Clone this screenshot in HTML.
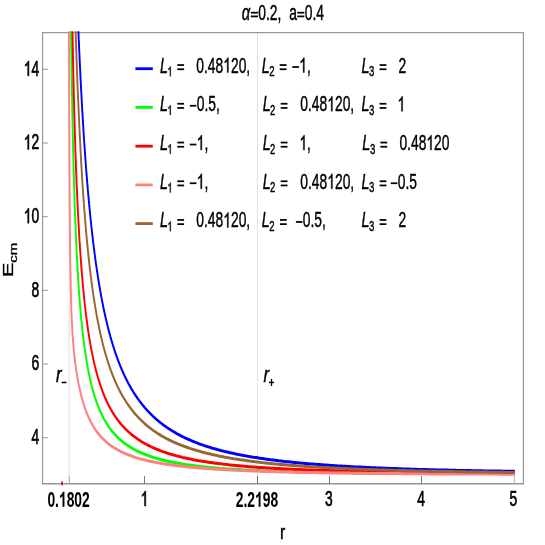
<!DOCTYPE html>
<html><head><meta charset="utf-8"><title>plot</title>
<style>html,body{margin:0;padding:0;background:#fff;}svg{display:block;will-change:transform;}text{font-family:"Liberation Sans",sans-serif;fill:#000;}</style></head>
<body>
<svg width="545" height="545" viewBox="0 0 545 545">
<rect width="545" height="545" fill="#fff"/>
<defs><clipPath id="c"><rect x="66.69" y="31.3" width="753.68" height="452.59999999999997"/></clipPath></defs>
<g transform="scale(0.638,1)">
<line x1="108.46" y1="32.6" x2="108.46" y2="483.9" stroke="#e2e2e2" stroke-width="1.7"/>
<line x1="403.61" y1="32.6" x2="403.61" y2="483.9" stroke="#e2e2e2" stroke-width="1.7"/>
<g stroke="#989898" fill="none">
<line x1="66.69" y1="32.6" x2="66.69" y2="483.9" stroke-width="1.9"/>
<line x1="820.38" y1="32.6" x2="820.38" y2="483.9" stroke-width="1.9"/>
<line x1="65.75" y1="32.6" x2="821.32" y2="32.6" stroke-width="1.2"/>
<line x1="65.75" y1="483.73" x2="821.32" y2="483.73" stroke-width="1.45" stroke="#969696"/>
<line x1="67.40" y1="437.70" x2="74.92" y2="437.70" stroke-width="1.3" stroke="#a8a8a8"/>
<line x1="67.40" y1="364.03" x2="74.92" y2="364.03" stroke-width="1.3" stroke="#a8a8a8"/>
<line x1="67.40" y1="290.36" x2="74.92" y2="290.36" stroke-width="1.3" stroke="#a8a8a8"/>
<line x1="67.40" y1="216.69" x2="74.92" y2="216.69" stroke-width="1.3" stroke="#a8a8a8"/>
<line x1="67.40" y1="143.02" x2="74.92" y2="143.02" stroke-width="1.3" stroke="#a8a8a8"/>
<line x1="67.40" y1="69.35" x2="74.92" y2="69.35" stroke-width="1.3" stroke="#a8a8a8"/>
<line x1="108.46" y1="483.5" x2="108.46" y2="476.0" stroke-width="1.1" stroke="#8a8a8a"/>
<line x1="226.49" y1="483.5" x2="226.49" y2="476.0" stroke-width="1.1" stroke="#3c3c3c"/>
<line x1="403.53" y1="483.5" x2="403.53" y2="476.0" stroke-width="1.1" stroke="#3c3c3c"/>
<line x1="516.38" y1="483.5" x2="516.38" y2="476.0" stroke-width="1.1" stroke="#3c3c3c"/>
<line x1="660.66" y1="483.5" x2="660.66" y2="476.0" stroke-width="1.1" stroke="#3c3c3c"/>
<line x1="805.96" y1="483.5" x2="805.96" y2="476.0" stroke-width="1.1" stroke="#8a8a8a"/>
</g>
<g clip-path="url(#c)" fill="none" stroke-width="3.0" stroke-linejoin="round">
<path d="M119.8 -22.1 L119.9 -20.0 L120.0 -18.0 L120.1 -15.9 L120.2 -13.9 L120.3 -11.9 L120.4 -9.9 L120.6 -7.9 L120.7 -5.9 L120.8 -3.9 L120.9 -2.0 L121.0 -0.1 L121.1 1.9 L121.2 3.8 L121.3 5.7 L121.4 7.6 L121.6 9.4 L121.7 11.3 L121.8 13.1 L121.9 15.0 L122.0 16.8 L122.1 18.6 L122.2 20.4 L122.3 22.2 L122.4 24.0 L122.6 25.7 L122.7 27.5 L122.8 29.2 L122.9 30.9 L123.0 32.6 L123.1 34.4 L123.2 36.0 L123.3 37.7 L123.4 39.4 L123.6 41.1 L123.7 42.7 L123.8 44.4 L123.9 46.0 L124.0 47.6 L124.1 49.2 L124.2 50.8 L124.3 52.4 L124.5 54.0 L124.6 55.6 L124.7 57.1 L124.8 58.7 L124.9 60.2 L125.0 61.7 L125.1 63.3 L125.2 64.8 L125.3 66.3 L125.5 67.8 L125.6 69.3 L125.7 70.7 L125.8 72.2 L125.9 73.7 L126.0 75.1 L126.1 76.5 L126.2 78.0 L126.3 79.4 L126.5 80.8 L126.6 82.2 L126.7 83.6 L126.8 85.0 L126.9 86.4 L127.0 87.8 L127.1 89.1 L127.2 90.5 L127.3 91.8 L127.5 93.2 L127.6 94.5 L127.7 95.8 L127.8 97.2 L127.9 98.5 L128.0 99.8 L128.1 101.1 L128.2 102.4 L128.4 103.6 L128.5 104.9 L128.6 106.2 L128.7 107.4 L128.8 108.7 L128.9 109.9 L129.0 111.2 L129.1 112.4 L129.2 113.6 L129.4 114.8 L129.5 116.1 L129.6 117.3 L129.7 118.5 L129.8 119.6 L129.9 120.8 L130.0 122.0 L130.1 123.2 L130.2 124.3 L130.4 125.5 L130.5 126.6 L130.6 127.8 L130.7 128.9 L130.8 130.1 L131.0 131.8 L131.1 133.4 L131.3 135.1 L131.5 136.7 L131.6 138.4 L131.8 140.0 L132.0 141.6 L132.1 143.2 L132.3 144.8 L132.5 146.3 L132.6 147.9 L132.8 149.4 L133.0 151.0 L133.1 152.5 L133.3 154.0 L133.5 155.5 L133.6 157.0 L133.8 158.5 L134.0 159.9 L134.1 161.4 L134.3 162.8 L134.5 164.3 L134.6 165.7 L134.8 167.1 L135.0 168.5 L135.1 169.9 L135.3 171.2 L135.5 172.6 L135.6 174.0 L135.8 175.3 L136.0 176.7 L136.2 178.0 L136.3 179.3 L136.5 180.6 L136.7 181.9 L136.8 183.2 L137.0 184.5 L137.2 185.7 L137.3 187.0 L137.5 188.3 L137.7 189.5 L137.8 190.7 L138.0 192.0 L138.2 193.2 L138.3 194.4 L138.5 195.6 L138.7 196.8 L138.8 198.0 L139.0 199.1 L139.2 200.3 L139.3 201.5 L139.5 202.6 L139.7 203.7 L139.8 204.9 L140.0 206.0 L140.2 207.1 L140.3 208.2 L140.5 209.3 L140.7 210.4 L140.9 211.9 L141.1 213.3 L141.3 214.7 L141.6 216.2 L141.8 217.6 L142.0 218.9 L142.2 220.3 L142.4 221.7 L142.7 223.0 L142.9 224.4 L143.1 225.7 L143.3 227.0 L143.6 228.3 L143.8 229.6 L144.0 230.9 L144.2 232.2 L144.5 233.4 L144.7 234.7 L144.9 235.9 L145.1 237.1 L145.3 238.4 L145.6 239.6 L145.8 240.8 L146.0 242.0 L146.2 243.1 L146.5 244.3 L146.7 245.5 L146.9 246.6 L147.1 247.7 L147.3 248.9 L147.6 250.0 L147.8 251.1 L148.0 252.2 L148.2 253.3 L148.5 254.4 L148.7 255.5 L148.9 256.5 L149.1 257.6 L149.4 258.9 L149.7 260.2 L150.0 261.5 L150.2 262.8 L150.5 264.0 L150.8 265.3 L151.1 266.5 L151.4 267.8 L151.6 269.0 L151.9 270.2 L152.2 271.4 L152.5 272.5 L152.8 273.7 L153.0 274.9 L153.3 276.0 L153.6 277.2 L153.9 278.3 L154.1 279.4 L154.4 280.5 L154.7 281.6 L155.0 282.7 L155.3 283.8 L155.5 284.8 L155.8 285.9 L156.1 286.9 L156.4 288.0 L156.7 289.0 L157.0 290.2 L157.3 291.4 L157.7 292.6 L158.0 293.8 L158.3 295.0 L158.7 296.2 L159.0 297.3 L159.3 298.4 L159.7 299.6 L160.0 300.7 L160.3 301.8 L160.7 302.9 L161.0 303.9 L161.3 305.0 L161.7 306.1 L162.0 307.1 L162.3 308.2 L162.7 309.2 L163.0 310.2 L163.3 311.2 L163.7 312.2 L164.1 313.4 L164.5 314.5 L164.8 315.6 L165.2 316.7 L165.6 317.8 L166.0 318.9 L166.4 320.0 L166.8 321.0 L167.2 322.1 L167.6 323.1 L168.0 324.2 L168.4 325.2 L168.7 326.2 L170.1 329.7 L171.2 332.3 L172.3 334.8 L173.3 337.3 L174.4 339.7 L175.5 342.0 L176.5 344.2 L177.6 346.4 L178.7 348.6 L179.7 350.7 L180.8 352.7 L181.9 354.7 L182.9 356.6 L184.0 358.5 L185.0 360.3 L186.1 362.1 L187.2 363.8 L188.2 365.5 L189.3 367.2 L190.4 368.8 L191.4 370.4 L192.5 371.9 L193.6 373.4 L194.6 374.9 L195.7 376.4 L196.8 377.8 L197.8 379.1 L198.9 380.5 L200.0 381.8 L201.0 383.1 L202.1 384.4 L203.2 385.6 L204.2 386.8 L205.3 388.0 L206.3 389.2 L207.4 390.3 L208.5 391.4 L209.5 392.5 L210.6 393.6 L211.7 394.6 L212.7 395.6 L213.8 396.6 L214.9 397.6 L215.9 398.6 L217.0 399.6 L218.1 400.5 L219.1 401.4 L220.2 402.3 L221.3 403.2 L222.3 404.0 L223.4 404.9 L224.5 405.7 L225.5 406.5 L226.6 407.3 L227.6 408.1 L228.7 408.9 L229.8 409.7 L230.8 410.4 L231.9 411.1 L233.0 411.9 L234.0 412.6 L235.1 413.3 L236.2 414.0 L237.2 414.6 L238.3 415.3 L239.4 416.0 L240.4 416.6 L241.5 417.2 L242.6 417.8 L243.6 418.5 L244.7 419.1 L245.7 419.6 L246.8 420.2 L247.9 420.8 L248.9 421.4 L250.0 421.9 L251.1 422.5 L252.1 423.0 L253.2 423.5 L254.3 424.1 L256.4 425.1 L258.5 426.1 L260.7 427.0 L262.8 428.0 L264.9 428.9 L267.0 429.7 L269.2 430.6 L271.3 431.4 L273.4 432.2 L275.6 433.0 L277.7 433.8 L279.8 434.5 L282.0 435.2 L284.1 436.0 L286.2 436.6 L288.3 437.3 L290.5 438.0 L292.6 438.6 L294.7 439.2 L296.9 439.8 L299.0 440.4 L301.1 441.0 L303.3 441.5 L305.4 442.1 L307.5 442.6 L309.6 443.1 L311.8 443.7 L313.9 444.2 L316.0 444.6 L318.2 445.1 L320.3 445.6 L322.4 446.0 L324.6 446.5 L326.7 446.9 L328.8 447.3 L330.9 447.8 L333.1 448.2 L335.2 448.6 L337.3 448.9 L339.5 449.3 L341.6 449.7 L343.7 450.1 L345.9 450.4 L348.0 450.8 L350.1 451.1 L352.2 451.5 L354.4 451.8 L356.5 452.1 L358.6 452.4 L360.8 452.7 L362.9 453.0 L365.0 453.3 L367.1 453.6 L369.3 453.9 L371.4 454.2 L373.5 454.5 L375.7 454.7 L377.8 455.0 L379.9 455.3 L382.1 455.5 L384.2 455.8 L386.3 456.0 L388.4 456.3 L390.6 456.5 L392.7 456.7 L394.8 457.0 L397.0 457.2 L399.1 457.4 L401.2 457.6 L403.4 457.8 L405.5 458.0 L407.6 458.2 L409.7 458.4 L411.9 458.6 L414.0 458.8 L416.1 459.0 L418.3 459.2 L420.4 459.4 L422.5 459.6 L424.7 459.8 L426.8 459.9 L428.9 460.1 L431.0 460.3 L433.2 460.5 L435.3 460.6 L437.4 460.8 L439.6 460.9 L441.7 461.1 L443.8 461.3 L446.0 461.4 L448.1 461.6 L450.2 461.7 L452.3 461.8 L454.5 462.0 L456.6 462.1 L458.7 462.3 L460.9 462.4 L463.0 462.5 L465.1 462.7 L467.3 462.8 L469.4 462.9 L471.5 463.1 L473.6 463.2 L475.8 463.3 L477.9 463.4 L480.0 463.5 L482.2 463.7 L484.3 463.8 L486.4 463.9 L488.6 464.0 L490.7 464.1 L492.8 464.2 L494.9 464.3 L497.1 464.4 L499.2 464.5 L501.3 464.6 L503.5 464.7 L505.6 464.8 L507.7 464.9 L509.8 465.0 L512.0 465.1 L514.1 465.2 L516.2 465.3 L518.4 465.4 L520.5 465.5 L522.6 465.6 L524.8 465.7 L526.9 465.8 L529.0 465.9 L531.1 465.9 L533.3 466.0 L535.4 466.1 L537.5 466.2 L539.7 466.3 L541.8 466.3 L543.9 466.4 L546.1 466.5 L548.2 466.6 L550.3 466.7 L552.4 466.7 L554.6 466.8 L556.7 466.9 L558.8 466.9 L561.0 467.0 L563.1 467.1 L565.2 467.1 L567.4 467.2 L569.5 467.3 L571.6 467.3 L573.7 467.4 L575.9 467.5 L578.0 467.5 L580.1 467.6 L582.3 467.7 L584.4 467.7 L586.5 467.8 L588.7 467.8 L590.8 467.9 L592.9 468.0 L595.0 468.0 L597.2 468.1 L599.3 468.1 L601.4 468.2 L603.6 468.2 L605.7 468.3 L607.8 468.3 L610.0 468.4 L612.1 468.4 L614.2 468.5 L616.3 468.5 L618.5 468.6 L620.6 468.6 L622.7 468.7 L624.9 468.7 L627.0 468.8 L629.1 468.8 L631.2 468.9 L633.4 468.9 L635.5 469.0 L637.6 469.0 L639.8 469.1 L641.9 469.1 L644.0 469.2 L646.2 469.2 L648.3 469.2 L650.4 469.3 L652.5 469.3 L654.7 469.4 L656.8 469.4 L658.9 469.4 L661.1 469.5 L663.2 469.5 L665.3 469.6 L667.5 469.6 L669.6 469.6 L671.7 469.7 L673.8 469.7 L676.0 469.7 L678.1 469.8 L680.2 469.8 L682.4 469.8 L684.5 469.9 L686.6 469.9 L688.8 469.9 L690.9 470.0 L693.0 470.0 L695.1 470.0 L697.3 470.1 L699.4 470.1 L701.5 470.1 L703.7 470.2 L705.8 470.2 L707.9 470.2 L710.1 470.3 L712.2 470.3 L714.3 470.3 L716.4 470.4 L718.6 470.4 L720.7 470.4 L722.8 470.4 L725.0 470.5 L727.1 470.5 L729.2 470.5 L731.4 470.5 L733.5 470.6 L735.6 470.6 L737.7 470.6 L739.9 470.7 L742.0 470.7 L744.1 470.7 L746.3 470.7 L748.4 470.8 L750.5 470.8 L752.6 470.8 L754.8 470.8 L756.9 470.8 L759.0 470.9 L761.2 470.9 L763.3 470.9 L765.4 470.9 L767.6 471.0 L769.7 471.0 L771.8 471.0 L773.9 471.0 L776.1 471.0 L778.2 471.1 L780.3 471.1 L782.5 471.1 L784.6 471.1 L786.7 471.2 L788.9 471.2 L791.0 471.2 L793.1 471.2 L795.2 471.2 L797.4 471.2 L799.5 471.3 L801.6 471.3 L803.8 471.3 L805.9 471.3 L807.0 471.3" stroke="#0000ff"/>
<path d="M110.4 -20.8 L110.5 -18.0 L110.5 -15.2 L110.6 -12.5 L110.6 -9.8 L110.6 -7.1 L110.7 -4.5 L110.7 -1.9 L110.8 0.7 L110.8 3.3 L110.9 5.8 L110.9 8.3 L111.0 10.7 L111.0 13.2 L111.1 15.6 L111.1 18.0 L111.1 20.4 L111.2 22.7 L111.2 25.0 L111.3 27.3 L111.3 29.6 L111.4 31.9 L111.4 34.1 L111.5 36.3 L111.5 38.5 L111.6 40.6 L111.6 42.8 L111.6 44.9 L111.7 47.0 L111.7 49.1 L111.8 51.1 L111.8 53.2 L111.9 55.2 L111.9 57.2 L112.0 59.2 L112.0 61.1 L112.1 63.1 L112.1 65.0 L112.1 66.9 L112.2 68.8 L112.2 70.7 L112.3 72.5 L112.3 74.4 L112.4 76.2 L112.4 78.0 L112.5 79.8 L112.5 81.6 L112.6 83.3 L112.6 85.1 L112.6 86.8 L112.7 88.5 L112.7 90.2 L112.8 91.9 L112.8 93.5 L112.9 95.2 L112.9 96.8 L113.0 98.5 L113.0 100.1 L113.1 101.7 L113.1 103.3 L113.1 104.8 L113.2 106.4 L113.2 107.9 L113.3 109.5 L113.3 111.0 L113.4 112.5 L113.4 114.0 L113.5 115.5 L113.5 116.9 L113.6 118.4 L113.6 119.8 L113.6 121.3 L113.7 122.7 L113.7 124.1 L113.8 125.5 L113.8 126.9 L113.9 128.3 L113.9 129.7 L114.0 131.0 L114.0 132.4 L114.1 133.7 L114.1 135.0 L114.1 136.3 L114.2 137.7 L114.2 139.0 L114.3 140.2 L114.3 141.5 L114.4 142.8 L114.4 144.0 L114.5 145.3 L114.5 146.5 L114.6 147.8 L114.6 149.0 L114.6 150.2 L114.7 151.4 L114.7 152.6 L114.8 153.8 L114.8 155.0 L114.9 157.3 L115.0 159.6 L115.1 161.9 L115.2 164.1 L115.3 166.3 L115.4 168.5 L115.5 170.6 L115.6 172.7 L115.6 174.8 L115.7 176.9 L115.8 178.9 L115.9 180.9 L116.0 182.9 L116.1 184.9 L116.2 186.8 L116.3 188.7 L116.4 190.6 L116.5 192.4 L116.6 194.3 L116.6 196.1 L116.7 197.9 L116.8 199.6 L116.9 201.4 L117.0 203.1 L117.1 204.8 L117.2 206.5 L117.3 208.1 L117.4 209.8 L117.5 211.4 L117.6 213.0 L117.6 214.6 L117.7 216.1 L117.8 217.7 L117.9 219.2 L118.0 220.7 L118.1 222.2 L118.2 223.7 L118.3 225.2 L118.4 226.6 L118.5 228.1 L118.6 229.5 L118.6 230.9 L118.7 232.3 L118.8 233.6 L118.9 235.0 L119.0 236.3 L119.1 237.7 L119.2 239.0 L119.3 240.3 L119.4 241.6 L119.5 242.8 L119.6 244.1 L119.6 245.3 L119.7 246.6 L119.8 247.8 L119.9 249.0 L120.0 250.2 L120.1 251.4 L120.2 252.6 L120.3 253.7 L120.4 254.9 L120.5 256.6 L120.7 258.3 L120.8 259.9 L120.9 261.5 L121.1 263.2 L121.2 264.7 L121.3 266.3 L121.5 267.8 L121.6 269.4 L121.7 270.9 L121.9 272.4 L122.0 273.8 L122.2 275.3 L122.3 276.7 L122.4 278.1 L122.6 279.5 L122.7 280.8 L122.8 282.2 L123.0 283.5 L123.1 284.8 L123.2 286.1 L123.4 287.4 L123.5 288.7 L123.7 289.9 L123.8 291.2 L123.9 292.4 L124.1 293.6 L124.2 294.8 L124.3 296.0 L124.5 297.1 L124.6 298.3 L124.7 299.4 L124.9 300.5 L125.1 302.0 L125.2 303.5 L125.4 304.9 L125.6 306.3 L125.8 307.7 L126.0 309.1 L126.2 310.4 L126.3 311.7 L126.5 313.0 L126.7 314.3 L126.9 315.6 L127.1 316.9 L127.2 318.1 L127.4 319.3 L127.6 320.5 L127.8 321.7 L128.0 322.9 L128.2 324.0 L128.3 325.2 L128.5 326.3 L128.7 327.4 L128.9 328.5 L129.1 329.8 L129.3 331.1 L129.6 332.4 L129.8 333.7 L130.0 335.0 L130.2 336.2 L130.5 337.4 L130.7 338.6 L130.9 339.8 L131.2 341.0 L131.4 342.1 L131.6 343.3 L131.8 344.4 L132.1 345.5 L132.3 346.6 L132.5 347.6 L132.8 348.9 L133.1 350.1 L133.3 351.3 L133.6 352.5 L133.9 353.7 L134.2 354.9 L134.4 356.0 L134.7 357.1 L135.0 358.2 L135.2 359.3 L135.5 360.4 L135.8 361.4 L136.1 362.4 L136.4 363.6 L136.7 364.8 L137.0 365.9 L137.3 367.0 L137.7 368.1 L138.0 369.2 L138.3 370.3 L138.6 371.3 L138.9 372.3 L139.2 373.3 L139.6 374.5 L140.0 375.6 L140.3 376.7 L140.7 377.7 L141.1 378.8 L141.4 379.8 L141.8 380.8 L142.2 381.8 L142.5 382.8 L142.9 383.9 L143.3 384.9 L143.7 386.0 L144.2 387.0 L144.6 388.0 L145.0 389.0 L145.4 389.9 L145.8 390.9 L146.2 391.9 L146.7 392.9 L147.2 393.9 L147.6 394.8 L148.1 395.8 L148.5 396.7 L149.0 397.7 L149.5 398.7 L150.0 399.6 L150.5 400.6 L151.0 401.5 L151.5 402.4 L152.0 403.3 L152.6 404.2 L153.1 405.1 L153.7 406.0 L154.2 406.9 L154.8 407.8 L155.3 408.7 L155.9 409.6 L156.5 410.5 L157.1 411.3 L157.7 412.2 L158.3 413.1 L159.0 413.9 L159.6 414.8 L160.3 415.6 L160.9 416.4 L161.6 417.3 L162.3 418.1 L162.9 418.9 L163.6 419.7 L164.3 420.4 L165.0 421.3 L165.8 422.0 L166.5 422.8 L167.2 423.6 L168.0 424.3 L168.8 425.1 L170.1 426.4 L171.2 427.4 L172.3 428.3 L173.3 429.2 L174.4 430.1 L175.5 431.0 L176.5 431.8 L177.6 432.6 L178.7 433.4 L179.7 434.2 L180.8 434.9 L181.9 435.6 L182.9 436.3 L184.0 437.0 L185.0 437.7 L186.1 438.3 L187.2 439.0 L188.2 439.6 L189.3 440.2 L190.4 440.8 L191.4 441.3 L192.5 441.9 L193.6 442.4 L194.6 442.9 L196.8 444.0 L198.9 444.9 L201.0 445.9 L203.2 446.7 L205.3 447.6 L207.4 448.4 L209.5 449.1 L211.7 449.9 L213.8 450.6 L215.9 451.3 L218.1 451.9 L220.2 452.5 L222.3 453.1 L224.5 453.7 L226.6 454.3 L228.7 454.8 L230.8 455.3 L233.0 455.8 L235.1 456.3 L237.2 456.7 L239.4 457.2 L241.5 457.6 L243.6 458.0 L245.7 458.4 L247.9 458.8 L250.0 459.2 L252.1 459.5 L254.3 459.9 L256.4 460.2 L258.5 460.6 L260.7 460.9 L262.8 461.2 L264.9 461.5 L267.0 461.8 L269.2 462.1 L271.3 462.3 L273.4 462.6 L275.6 462.8 L277.7 463.1 L279.8 463.3 L282.0 463.6 L284.1 463.8 L286.2 464.0 L288.3 464.2 L290.5 464.4 L292.6 464.7 L294.7 464.9 L296.9 465.0 L299.0 465.2 L301.1 465.4 L303.3 465.6 L305.4 465.8 L307.5 465.9 L309.6 466.1 L311.8 466.3 L313.9 466.4 L316.0 466.6 L318.2 466.7 L320.3 466.9 L322.4 467.0 L324.6 467.1 L326.7 467.3 L328.8 467.4 L330.9 467.5 L333.1 467.7 L335.2 467.8 L337.3 467.9 L339.5 468.0 L341.6 468.1 L343.7 468.3 L345.9 468.4 L348.0 468.5 L350.1 468.6 L352.2 468.7 L354.4 468.8 L356.5 468.9 L358.6 469.0 L360.8 469.1 L362.9 469.1 L365.0 469.2 L367.1 469.3 L369.3 469.4 L371.4 469.5 L373.5 469.6 L375.7 469.6 L377.8 469.7 L379.9 469.8 L382.1 469.9 L384.2 470.0 L386.3 470.0 L388.4 470.1 L390.6 470.2 L392.7 470.2 L394.8 470.3 L397.0 470.4 L399.1 470.4 L401.2 470.5 L403.4 470.5 L405.5 470.6 L407.6 470.7 L409.7 470.7 L411.9 470.8 L414.0 470.8 L416.1 470.9 L418.3 470.9 L420.4 471.0 L422.5 471.0 L424.7 471.1 L426.8 471.1 L428.9 471.2 L431.0 471.2 L433.2 471.3 L435.3 471.3 L437.4 471.4 L439.6 471.4 L441.7 471.4 L443.8 471.5 L446.0 471.5 L448.1 471.6 L450.2 471.6 L452.3 471.6 L454.5 471.7 L456.6 471.7 L458.7 471.8 L460.9 471.8 L463.0 471.8 L465.1 471.9 L467.3 471.9 L469.4 471.9 L471.5 472.0 L473.6 472.0 L475.8 472.0 L477.9 472.0 L480.0 472.1 L482.2 472.1 L484.3 472.1 L486.4 472.2 L488.6 472.2 L490.7 472.2 L492.8 472.2 L494.9 472.3 L497.1 472.3 L499.2 472.3 L501.3 472.3 L503.5 472.4 L505.6 472.4 L507.7 472.4 L509.8 472.4 L512.0 472.5 L514.1 472.5 L516.2 472.5 L518.4 472.5 L520.5 472.5 L522.6 472.6 L524.8 472.6 L526.9 472.6 L529.0 472.6 L531.1 472.6 L533.3 472.7 L535.4 472.7 L537.5 472.7 L539.7 472.7 L541.8 472.7 L543.9 472.7 L546.1 472.8 L548.2 472.8 L550.3 472.8 L552.4 472.8 L554.6 472.8 L556.7 472.8 L558.8 472.9 L561.0 472.9 L563.1 472.9 L565.2 472.9 L567.4 472.9 L569.5 472.9 L571.6 472.9 L573.7 473.0 L575.9 473.0 L578.0 473.0 L580.1 473.0 L582.3 473.0 L584.4 473.0 L586.5 473.0 L588.7 473.0 L590.8 473.0 L592.9 473.1 L595.0 473.1 L597.2 473.1 L599.3 473.1 L601.4 473.1 L603.6 473.1 L605.7 473.1 L607.8 473.1 L610.0 473.1 L612.1 473.1 L614.2 473.1 L616.3 473.2 L618.5 473.2 L620.6 473.2 L622.7 473.2 L624.9 473.2 L627.0 473.2 L629.1 473.2 L631.2 473.2 L633.4 473.2 L635.5 473.2 L637.6 473.2 L639.8 473.2 L641.9 473.2 L644.0 473.2 L646.2 473.3 L648.3 473.3 L650.4 473.3 L652.5 473.3 L654.7 473.3 L656.8 473.3 L658.9 473.3 L661.1 473.3 L663.2 473.3 L665.3 473.3 L667.5 473.3 L669.6 473.3 L671.7 473.3 L673.8 473.3 L676.0 473.3 L678.1 473.3 L680.2 473.3 L682.4 473.3 L684.5 473.3 L686.6 473.3 L688.8 473.3 L690.9 473.3 L693.0 473.4 L695.1 473.4 L697.3 473.4 L699.4 473.4 L701.5 473.4 L703.7 473.4 L705.8 473.4 L707.9 473.4 L710.1 473.4 L712.2 473.4 L714.3 473.4 L716.4 473.4 L718.6 473.4 L720.7 473.4 L722.8 473.4 L725.0 473.4 L727.1 473.4 L729.2 473.4 L731.4 473.4 L733.5 473.4 L735.6 473.4 L737.7 473.4 L739.9 473.4 L742.0 473.4 L744.1 473.4 L746.3 473.4 L748.4 473.4 L750.5 473.4 L752.6 473.4 L754.8 473.4 L756.9 473.4 L759.0 473.4 L761.2 473.4 L763.3 473.4 L765.4 473.4 L767.6 473.4 L769.7 473.4 L771.8 473.4 L773.9 473.4 L776.1 473.4 L778.2 473.4 L780.3 473.4 L782.5 473.4 L784.6 473.4 L786.7 473.4 L788.9 473.4 L791.0 473.4 L793.1 473.4 L795.2 473.4 L797.4 473.4 L799.5 473.4 L801.6 473.4 L803.8 473.4 L805.9 473.4 L807.0 473.4" stroke="#00ff00"/>
<path d="M112.3 -21.6 L112.3 -19.6 L112.4 -17.6 L112.4 -15.7 L112.5 -13.7 L112.5 -11.8 L112.6 -9.9 L112.6 -7.9 L112.6 -6.1 L112.7 -4.2 L112.7 -2.3 L112.8 -0.5 L112.8 1.4 L112.9 3.2 L112.9 5.0 L113.0 6.8 L113.0 8.6 L113.0 10.3 L113.1 12.1 L113.1 13.8 L113.2 15.5 L113.2 17.2 L113.3 18.9 L113.3 20.6 L113.4 22.3 L113.4 23.9 L113.5 25.6 L113.5 27.2 L113.5 28.8 L113.6 30.5 L113.6 32.1 L113.7 33.6 L113.7 35.2 L113.8 36.8 L113.8 38.3 L113.9 39.9 L113.9 41.4 L114.0 42.9 L114.0 44.4 L114.0 45.9 L114.1 47.4 L114.1 48.9 L114.2 50.4 L114.2 51.8 L114.3 53.3 L114.3 54.7 L114.4 56.1 L114.4 57.5 L114.4 59.0 L114.5 60.4 L114.5 61.7 L114.6 63.1 L114.6 64.5 L114.7 65.9 L114.7 67.2 L114.8 68.6 L114.8 69.9 L114.9 71.2 L114.9 72.5 L114.9 73.8 L115.0 75.1 L115.0 76.4 L115.1 77.7 L115.1 79.0 L115.2 80.3 L115.2 81.5 L115.3 82.8 L115.3 84.0 L115.3 85.2 L115.4 86.5 L115.4 87.7 L115.5 88.9 L115.5 90.1 L115.6 91.3 L115.6 92.5 L115.7 93.7 L115.7 94.9 L115.8 97.2 L115.9 99.5 L116.0 101.8 L116.1 104.0 L116.2 106.2 L116.3 108.4 L116.3 110.6 L116.4 112.7 L116.5 114.8 L116.6 116.9 L116.7 119.0 L116.8 121.1 L116.9 123.1 L117.0 125.1 L117.1 127.1 L117.2 129.0 L117.2 131.0 L117.3 132.9 L117.4 134.8 L117.5 136.6 L117.6 138.5 L117.7 140.3 L117.8 142.1 L117.9 143.9 L118.0 145.7 L118.1 147.5 L118.1 149.2 L118.2 150.9 L118.3 152.6 L118.4 154.3 L118.5 156.0 L118.6 157.7 L118.7 159.3 L118.8 160.9 L118.9 162.5 L119.0 164.1 L119.0 165.7 L119.1 167.3 L119.2 168.8 L119.3 170.3 L119.4 171.8 L119.5 173.3 L119.6 174.8 L119.7 176.3 L119.8 177.8 L119.9 179.2 L119.9 180.6 L120.0 182.1 L120.1 183.5 L120.2 184.8 L120.3 186.2 L120.4 187.6 L120.5 189.0 L120.6 190.3 L120.7 191.6 L120.8 192.9 L120.9 194.3 L120.9 195.6 L121.0 196.8 L121.1 198.1 L121.2 199.4 L121.3 200.6 L121.4 201.9 L121.5 203.1 L121.6 204.3 L121.7 205.5 L121.8 206.7 L121.8 207.9 L121.9 209.1 L122.0 210.3 L122.1 211.4 L122.2 212.6 L122.3 214.3 L122.5 216.0 L122.6 217.6 L122.7 219.3 L122.9 220.9 L123.0 222.5 L123.2 224.1 L123.3 225.7 L123.4 227.2 L123.6 228.8 L123.7 230.3 L123.8 231.8 L124.0 233.3 L124.1 234.7 L124.2 236.2 L124.4 237.6 L124.5 239.0 L124.6 240.4 L124.8 241.8 L124.9 243.2 L125.0 244.6 L125.2 245.9 L125.3 247.2 L125.5 248.5 L125.6 249.8 L125.7 251.1 L125.9 252.4 L126.0 253.7 L126.1 254.9 L126.3 256.1 L126.4 257.4 L126.5 258.6 L126.7 259.8 L126.8 260.9 L126.9 262.1 L127.1 263.3 L127.2 264.4 L127.3 265.6 L127.5 266.7 L127.6 267.8 L127.8 269.3 L128.0 270.7 L128.2 272.1 L128.3 273.6 L128.5 275.0 L128.7 276.3 L128.9 277.7 L129.1 279.0 L129.2 280.4 L129.4 281.7 L129.6 283.0 L129.8 284.3 L130.0 285.5 L130.1 286.8 L130.3 288.0 L130.5 289.2 L130.7 290.4 L130.9 291.6 L131.0 292.8 L131.2 294.0 L131.4 295.1 L131.6 296.3 L131.8 297.4 L131.9 298.5 L132.1 299.6 L132.3 300.7 L132.5 302.0 L132.8 303.4 L133.0 304.7 L133.2 305.9 L133.4 307.2 L133.7 308.5 L133.9 309.7 L134.1 310.9 L134.3 312.1 L134.6 313.3 L134.8 314.5 L135.0 315.7 L135.2 316.8 L135.5 317.9 L135.7 319.1 L135.9 320.2 L136.1 321.2 L136.4 322.3 L136.6 323.4 L136.9 324.6 L137.1 325.9 L137.4 327.1 L137.7 328.3 L137.9 329.5 L138.2 330.7 L138.5 331.8 L138.8 332.9 L139.0 334.1 L139.3 335.2 L139.6 336.3 L139.8 337.3 L140.1 338.4 L140.4 339.4 L140.7 340.5 L141.0 341.7 L141.3 342.8 L141.6 344.0 L141.9 345.1 L142.2 346.2 L142.6 347.3 L142.9 348.4 L143.2 349.5 L143.5 350.6 L143.8 351.6 L144.1 352.6 L144.4 353.6 L144.8 354.8 L145.2 355.9 L145.5 357.0 L145.9 358.1 L146.2 359.1 L146.6 360.2 L147.0 361.2 L147.3 362.2 L147.7 363.2 L148.1 364.2 L148.4 365.2 L148.8 366.3 L149.2 367.3 L149.6 368.4 L150.0 369.4 L150.4 370.4 L150.9 371.4 L151.3 372.3 L151.7 373.3 L152.1 374.2 L152.5 375.3 L153.0 376.3 L153.4 377.3 L153.9 378.3 L154.3 379.2 L154.8 380.2 L155.2 381.1 L155.7 382.0 L156.2 383.0 L156.7 384.0 L157.2 384.9 L157.7 385.9 L158.2 386.8 L158.7 387.7 L159.2 388.6 L159.7 389.6 L160.2 390.5 L160.8 391.4 L161.3 392.3 L161.9 393.2 L162.4 394.1 L162.9 394.9 L163.5 395.9 L164.1 396.7 L164.7 397.6 L165.3 398.5 L165.9 399.3 L166.5 400.2 L167.1 401.0 L167.7 401.9 L168.4 402.7 L169.0 403.6 L170.1 405.1 L171.2 406.4 L172.3 407.6 L173.3 408.9 L174.4 410.1 L175.5 411.3 L176.5 412.4 L177.6 413.5 L178.7 414.6 L179.7 415.6 L180.8 416.6 L181.9 417.6 L182.9 418.6 L184.0 419.5 L185.0 420.4 L186.1 421.3 L187.2 422.1 L188.2 423.0 L189.3 423.8 L190.4 424.6 L191.4 425.4 L192.5 426.1 L193.6 426.9 L194.6 427.6 L195.7 428.3 L196.8 429.0 L197.8 429.7 L198.9 430.3 L200.0 431.0 L201.0 431.6 L202.1 432.2 L203.2 432.8 L204.2 433.4 L205.3 434.0 L206.3 434.6 L207.4 435.1 L208.5 435.7 L209.5 436.2 L211.7 437.2 L213.8 438.2 L215.9 439.1 L218.1 440.1 L220.2 440.9 L222.3 441.8 L224.5 442.6 L226.6 443.4 L228.7 444.1 L230.8 444.8 L233.0 445.5 L235.1 446.2 L237.2 446.9 L239.4 447.5 L241.5 448.1 L243.6 448.7 L245.7 449.3 L247.9 449.8 L250.0 450.3 L252.1 450.9 L254.3 451.4 L256.4 451.9 L258.5 452.3 L260.7 452.8 L262.8 453.2 L264.9 453.7 L267.0 454.1 L269.2 454.5 L271.3 454.9 L273.4 455.3 L275.6 455.6 L277.7 456.0 L279.8 456.3 L282.0 456.7 L284.1 457.0 L286.2 457.4 L288.3 457.7 L290.5 458.0 L292.6 458.3 L294.7 458.6 L296.9 458.9 L299.0 459.1 L301.1 459.4 L303.3 459.7 L305.4 459.9 L307.5 460.2 L309.6 460.4 L311.8 460.7 L313.9 460.9 L316.0 461.1 L318.2 461.4 L320.3 461.6 L322.4 461.8 L324.6 462.0 L326.7 462.2 L328.8 462.4 L330.9 462.6 L333.1 462.8 L335.2 463.0 L337.3 463.2 L339.5 463.3 L341.6 463.5 L343.7 463.7 L345.9 463.8 L348.0 464.0 L350.1 464.2 L352.2 464.3 L354.4 464.5 L356.5 464.6 L358.6 464.8 L360.8 464.9 L362.9 465.1 L365.0 465.2 L367.1 465.3 L369.3 465.5 L371.4 465.6 L373.5 465.7 L375.7 465.8 L377.8 466.0 L379.9 466.1 L382.1 466.2 L384.2 466.3 L386.3 466.4 L388.4 466.6 L390.6 466.7 L392.7 466.8 L394.8 466.9 L397.0 467.0 L399.1 467.1 L401.2 467.2 L403.4 467.3 L405.5 467.4 L407.6 467.5 L409.7 467.6 L411.9 467.6 L414.0 467.7 L416.1 467.8 L418.3 467.9 L420.4 468.0 L422.5 468.1 L424.7 468.2 L426.8 468.2 L428.9 468.3 L431.0 468.4 L433.2 468.5 L435.3 468.5 L437.4 468.6 L439.6 468.7 L441.7 468.8 L443.8 468.8 L446.0 468.9 L448.1 469.0 L450.2 469.0 L452.3 469.1 L454.5 469.2 L456.6 469.2 L458.7 469.3 L460.9 469.4 L463.0 469.4 L465.1 469.5 L467.3 469.5 L469.4 469.6 L471.5 469.6 L473.6 469.7 L475.8 469.8 L477.9 469.8 L480.0 469.9 L482.2 469.9 L484.3 470.0 L486.4 470.0 L488.6 470.1 L490.7 470.1 L492.8 470.2 L494.9 470.2 L497.1 470.3 L499.2 470.3 L501.3 470.3 L503.5 470.4 L505.6 470.4 L507.7 470.5 L509.8 470.5 L512.0 470.6 L514.1 470.6 L516.2 470.6 L518.4 470.7 L520.5 470.7 L522.6 470.8 L524.8 470.8 L526.9 470.8 L529.0 470.9 L531.1 470.9 L533.3 470.9 L535.4 471.0 L537.5 471.0 L539.7 471.0 L541.8 471.1 L543.9 471.1 L546.1 471.1 L548.2 471.2 L550.3 471.2 L552.4 471.2 L554.6 471.3 L556.7 471.3 L558.8 471.3 L561.0 471.4 L563.1 471.4 L565.2 471.4 L567.4 471.4 L569.5 471.5 L571.6 471.5 L573.7 471.5 L575.9 471.6 L578.0 471.6 L580.1 471.6 L582.3 471.6 L584.4 471.7 L586.5 471.7 L588.7 471.7 L590.8 471.7 L592.9 471.8 L595.0 471.8 L597.2 471.8 L599.3 471.8 L601.4 471.8 L603.6 471.9 L605.7 471.9 L607.8 471.9 L610.0 471.9 L612.1 471.9 L614.2 472.0 L616.3 472.0 L618.5 472.0 L620.6 472.0 L622.7 472.0 L624.9 472.1 L627.0 472.1 L629.1 472.1 L631.2 472.1 L633.4 472.1 L635.5 472.2 L637.6 472.2 L639.8 472.2 L641.9 472.2 L644.0 472.2 L646.2 472.2 L648.3 472.3 L650.4 472.3 L652.5 472.3 L654.7 472.3 L656.8 472.3 L658.9 472.3 L661.1 472.3 L663.2 472.4 L665.3 472.4 L667.5 472.4 L669.6 472.4 L671.7 472.4 L673.8 472.4 L676.0 472.4 L678.1 472.5 L680.2 472.5 L682.4 472.5 L684.5 472.5 L686.6 472.5 L688.8 472.5 L690.9 472.5 L693.0 472.5 L695.1 472.6 L697.3 472.6 L699.4 472.6 L701.5 472.6 L703.7 472.6 L705.8 472.6 L707.9 472.6 L710.1 472.6 L712.2 472.6 L714.3 472.7 L716.4 472.7 L718.6 472.7 L720.7 472.7 L722.8 472.7 L725.0 472.7 L727.1 472.7 L729.2 472.7 L731.4 472.7 L733.5 472.7 L735.6 472.7 L737.7 472.8 L739.9 472.8 L742.0 472.8 L744.1 472.8 L746.3 472.8 L748.4 472.8 L750.5 472.8 L752.6 472.8 L754.8 472.8 L756.9 472.8 L759.0 472.8 L761.2 472.8 L763.3 472.8 L765.4 472.9 L767.6 472.9 L769.7 472.9 L771.8 472.9 L773.9 472.9 L776.1 472.9 L778.2 472.9 L780.3 472.9 L782.5 472.9 L784.6 472.9 L786.7 472.9 L788.9 472.9 L791.0 472.9 L793.1 472.9 L795.2 472.9 L797.4 472.9 L799.5 472.9 L801.6 473.0 L803.8 473.0 L805.9 473.0 L807.0 473.0" stroke="#ff0000"/>
<path d="M107.9 -15.9 L108.0 -3.0 L108.0 9.3 L108.1 20.9 L108.1 32.1 L108.1 42.7 L108.2 52.9 L108.2 62.6 L108.3 71.8 L108.3 80.7 L108.4 89.2 L108.4 97.3 L108.4 105.1 L108.5 112.6 L108.5 119.7 L108.6 126.6 L108.6 133.1 L108.7 139.4 L108.7 145.5 L108.7 151.3 L108.8 156.9 L108.8 162.3 L108.9 167.5 L108.9 172.5 L109.0 177.3 L109.0 181.9 L109.0 186.4 L109.1 190.7 L109.1 194.8 L109.2 198.8 L109.2 202.7 L109.3 206.4 L109.3 210.0 L109.3 213.4 L109.4 216.8 L109.4 220.1 L109.5 223.2 L109.5 226.2 L109.6 229.2 L109.6 232.0 L109.6 234.8 L109.7 237.4 L109.7 240.0 L109.8 242.5 L109.8 245.0 L109.9 247.3 L109.9 249.6 L109.9 251.8 L110.0 254.0 L110.0 256.1 L110.1 258.1 L110.1 260.1 L110.2 262.0 L110.2 263.9 L110.2 265.7 L110.3 267.5 L110.3 269.2 L110.4 270.9 L110.4 272.5 L110.5 274.1 L110.5 275.7 L110.5 277.2 L110.6 278.7 L110.6 280.1 L110.7 281.5 L110.7 282.9 L110.8 284.2 L110.8 285.5 L110.8 286.8 L110.9 288.0 L110.9 289.3 L111.0 290.4 L111.1 292.7 L111.1 294.9 L111.2 297.0 L111.3 299.1 L111.4 301.0 L111.5 302.9 L111.6 304.6 L111.7 306.4 L111.7 308.0 L111.8 309.6 L111.9 311.1 L112.0 312.6 L112.1 314.1 L112.2 315.4 L112.3 316.8 L112.4 318.1 L112.4 319.3 L112.5 320.6 L112.6 321.8 L112.7 322.9 L112.8 324.6 L113.0 326.2 L113.1 327.7 L113.2 329.2 L113.3 330.6 L113.5 332.0 L113.6 333.3 L113.7 334.6 L113.9 335.8 L114.0 337.0 L114.1 338.2 L114.2 339.3 L114.4 340.8 L114.6 342.2 L114.8 343.6 L114.9 344.9 L115.1 346.2 L115.3 347.4 L115.4 348.6 L115.6 349.8 L115.8 350.9 L116.0 352.0 L116.2 353.3 L116.4 354.6 L116.6 355.9 L116.8 357.1 L117.0 358.3 L117.2 359.5 L117.5 360.6 L117.7 361.7 L117.9 362.8 L118.1 364.1 L118.4 365.3 L118.7 366.5 L118.9 367.7 L119.2 368.8 L119.4 370.0 L119.7 371.0 L120.0 372.1 L120.2 373.2 L120.5 374.3 L120.8 375.5 L121.1 376.6 L121.4 377.8 L121.7 378.8 L122.0 379.9 L122.3 380.9 L122.6 382.0 L123.0 383.1 L123.3 384.2 L123.6 385.3 L124.0 386.3 L124.3 387.4 L124.7 388.4 L125.0 389.4 L125.4 390.5 L125.8 391.5 L126.2 392.6 L126.6 393.6 L127.0 394.6 L127.3 395.6 L127.8 396.6 L128.2 397.7 L128.6 398.7 L129.1 399.7 L129.5 400.6 L129.9 401.6 L130.4 402.6 L130.9 403.6 L131.3 404.5 L131.8 405.5 L132.3 406.4 L132.8 407.3 L133.3 408.3 L133.8 409.2 L134.3 410.1 L134.9 411.0 L135.4 412.0 L136.0 412.9 L136.5 413.8 L137.1 414.6 L137.6 415.5 L138.2 416.4 L138.8 417.2 L139.4 418.1 L140.0 418.9 L140.7 419.7 L141.3 420.6 L142.0 421.4 L142.6 422.2 L143.3 423.0 L144.0 423.8 L144.7 424.6 L145.4 425.4 L146.1 426.2 L146.8 426.9 L147.6 427.7 L148.3 428.4 L149.1 429.2 L149.9 429.9 L150.7 430.6 L151.5 431.4 L152.3 432.1 L153.1 432.8 L154.0 433.5 L154.8 434.1 L155.7 434.8 L156.6 435.5 L157.5 436.2 L158.4 436.8 L159.3 437.4 L160.2 438.1 L161.2 438.7 L162.1 439.3 L163.1 439.9 L164.1 440.5 L165.1 441.1 L166.1 441.7 L167.1 442.2 L168.2 442.8 L170.1 443.8 L171.2 444.3 L173.3 445.4 L175.5 446.3 L177.6 447.2 L179.7 448.1 L181.9 448.9 L184.0 449.7 L186.1 450.4 L188.2 451.2 L190.4 451.8 L192.5 452.5 L194.6 453.1 L196.8 453.7 L198.9 454.3 L201.0 454.8 L203.2 455.3 L205.3 455.8 L207.4 456.3 L209.5 456.8 L211.7 457.2 L213.8 457.7 L215.9 458.1 L218.1 458.5 L220.2 458.9 L222.3 459.2 L224.5 459.6 L226.6 459.9 L228.7 460.3 L230.8 460.6 L233.0 460.9 L235.1 461.2 L237.2 461.5 L239.4 461.8 L241.5 462.1 L243.6 462.3 L245.7 462.6 L247.9 462.8 L250.0 463.1 L252.1 463.3 L254.3 463.6 L256.4 463.8 L258.5 464.0 L260.7 464.2 L262.8 464.4 L264.9 464.6 L267.0 464.8 L269.2 465.0 L271.3 465.2 L273.4 465.3 L275.6 465.5 L277.7 465.7 L279.8 465.9 L282.0 466.0 L284.1 466.2 L286.2 466.3 L288.3 466.5 L290.5 466.6 L292.6 466.8 L294.7 466.9 L296.9 467.0 L299.0 467.2 L301.1 467.3 L303.3 467.4 L305.4 467.5 L307.5 467.7 L309.6 467.8 L311.8 467.9 L313.9 468.0 L316.0 468.1 L318.2 468.2 L320.3 468.3 L322.4 468.4 L324.6 468.5 L326.7 468.6 L328.8 468.7 L330.9 468.8 L333.1 468.9 L335.2 469.0 L337.3 469.1 L339.5 469.2 L341.6 469.3 L343.7 469.3 L345.9 469.4 L348.0 469.5 L350.1 469.6 L352.2 469.7 L354.4 469.7 L356.5 469.8 L358.6 469.9 L360.8 469.9 L362.9 470.0 L365.0 470.1 L367.1 470.2 L369.3 470.2 L371.4 470.3 L373.5 470.3 L375.7 470.4 L377.8 470.5 L379.9 470.5 L382.1 470.6 L384.2 470.6 L386.3 470.7 L388.4 470.8 L390.6 470.8 L392.7 470.9 L394.8 470.9 L397.0 471.0 L399.1 471.0 L401.2 471.1 L403.4 471.1 L405.5 471.2 L407.6 471.2 L409.7 471.3 L411.9 471.3 L414.0 471.4 L416.1 471.4 L418.3 471.4 L420.4 471.5 L422.5 471.5 L424.7 471.6 L426.8 471.6 L428.9 471.6 L431.0 471.7 L433.2 471.7 L435.3 471.8 L437.4 471.8 L439.6 471.8 L441.7 471.9 L443.8 471.9 L446.0 471.9 L448.1 472.0 L450.2 472.0 L452.3 472.1 L454.5 472.1 L456.6 472.1 L458.7 472.1 L460.9 472.2 L463.0 472.2 L465.1 472.2 L467.3 472.3 L469.4 472.3 L471.5 472.3 L473.6 472.4 L475.8 472.4 L477.9 472.4 L480.0 472.4 L482.2 472.5 L484.3 472.5 L486.4 472.5 L488.6 472.5 L490.7 472.6 L492.8 472.6 L494.9 472.6 L497.1 472.6 L499.2 472.7 L501.3 472.7 L503.5 472.7 L505.6 472.7 L507.7 472.8 L509.8 472.8 L512.0 472.8 L514.1 472.8 L516.2 472.9 L518.4 472.9 L520.5 472.9 L522.6 472.9 L524.8 472.9 L526.9 473.0 L529.0 473.0 L531.1 473.0 L533.3 473.0 L535.4 473.0 L537.5 473.1 L539.7 473.1 L541.8 473.1 L543.9 473.1 L546.1 473.1 L548.2 473.1 L550.3 473.2 L552.4 473.2 L554.6 473.2 L556.7 473.2 L558.8 473.2 L561.0 473.2 L563.1 473.3 L565.2 473.3 L567.4 473.3 L569.5 473.3 L571.6 473.3 L573.7 473.3 L575.9 473.4 L578.0 473.4 L580.1 473.4 L582.3 473.4 L584.4 473.4 L586.5 473.4 L588.7 473.4 L590.8 473.4 L592.9 473.5 L595.0 473.5 L597.2 473.5 L599.3 473.5 L601.4 473.5 L603.6 473.5 L605.7 473.5 L607.8 473.5 L610.0 473.6 L612.1 473.6 L614.2 473.6 L616.3 473.6 L618.5 473.6 L620.6 473.6 L622.7 473.6 L624.9 473.6 L627.0 473.6 L629.1 473.7 L631.2 473.7 L633.4 473.7 L635.5 473.7 L637.6 473.7 L639.8 473.7 L641.9 473.7 L644.0 473.7 L646.2 473.7 L648.3 473.7 L650.4 473.8 L652.5 473.8 L654.7 473.8 L656.8 473.8 L658.9 473.8 L661.1 473.8 L663.2 473.8 L665.3 473.8 L667.5 473.8 L669.6 473.8 L671.7 473.8 L673.8 473.9 L676.0 473.9 L678.1 473.9 L680.2 473.9 L682.4 473.9 L684.5 473.9 L686.6 473.9 L688.8 473.9 L690.9 473.9 L693.0 473.9 L695.1 473.9 L697.3 473.9 L699.4 473.9 L701.5 473.9 L703.7 474.0 L705.8 474.0 L707.9 474.0 L710.1 474.0 L712.2 474.0 L714.3 474.0 L716.4 474.0 L718.6 474.0 L720.7 474.0 L722.8 474.0 L725.0 474.0 L727.1 474.0 L729.2 474.0 L731.4 474.0 L733.5 474.0 L735.6 474.0 L737.7 474.1 L739.9 474.1 L742.0 474.1 L744.1 474.1 L746.3 474.1 L748.4 474.1 L750.5 474.1 L752.6 474.1 L754.8 474.1 L756.9 474.1 L759.0 474.1 L761.2 474.1 L763.3 474.1 L765.4 474.1 L767.6 474.1 L769.7 474.1 L771.8 474.1 L773.9 474.1 L776.1 474.1 L778.2 474.1 L780.3 474.1 L782.5 474.2 L784.6 474.2 L786.7 474.2 L788.9 474.2 L791.0 474.2 L793.1 474.2 L795.2 474.2 L797.4 474.2 L799.5 474.2 L801.6 474.2 L803.8 474.2 L805.9 474.2 L807.0 474.2" stroke="#ff8080"/>
<path d="M116.3 -22.3 L116.4 -21.0 L116.4 -19.8 L116.5 -18.5 L116.5 -17.3 L116.6 -16.0 L116.6 -14.8 L116.7 -13.5 L116.7 -12.3 L116.8 -11.1 L116.8 -9.8 L116.9 -8.6 L116.9 -7.4 L117.0 -6.2 L117.0 -5.0 L117.1 -3.8 L117.1 -2.6 L117.2 -1.4 L117.2 -0.2 L117.3 0.9 L117.3 2.1 L117.4 4.4 L117.5 6.7 L117.6 9.0 L117.7 11.3 L117.8 13.5 L117.9 15.7 L118.0 17.9 L118.1 20.1 L118.2 22.3 L118.3 24.5 L118.4 26.6 L118.5 28.7 L118.6 30.8 L118.7 32.9 L118.8 34.9 L118.9 37.0 L119.0 39.0 L119.1 41.0 L119.2 43.0 L119.3 45.0 L119.4 46.9 L119.5 48.9 L119.6 50.8 L119.7 52.7 L119.8 54.6 L119.9 56.5 L120.0 58.4 L120.1 60.2 L120.2 62.1 L120.3 63.9 L120.4 65.7 L120.5 67.5 L120.6 69.3 L120.7 71.0 L120.8 72.8 L120.9 74.5 L121.0 76.3 L121.1 78.0 L121.2 79.7 L121.3 81.4 L121.4 83.0 L121.5 84.7 L121.6 86.4 L121.7 88.0 L121.8 89.6 L121.9 91.2 L122.0 92.8 L122.1 94.4 L122.2 96.0 L122.3 97.6 L122.4 99.1 L122.6 100.7 L122.7 102.2 L122.8 103.7 L122.9 105.2 L123.0 106.7 L123.1 108.2 L123.2 109.7 L123.3 111.2 L123.4 112.6 L123.5 114.1 L123.6 115.5 L123.7 116.9 L123.8 118.4 L123.9 119.8 L124.0 121.2 L124.1 122.5 L124.2 123.9 L124.3 125.3 L124.4 126.7 L124.5 128.0 L124.6 129.3 L124.7 130.7 L124.8 132.0 L124.9 133.3 L125.0 134.6 L125.1 135.9 L125.2 137.2 L125.3 138.5 L125.4 139.7 L125.5 141.0 L125.6 142.3 L125.7 143.5 L125.8 144.7 L125.9 146.0 L126.0 147.2 L126.1 148.4 L126.2 149.6 L126.3 150.8 L126.4 152.0 L126.5 153.2 L126.6 154.3 L126.7 155.5 L126.8 156.7 L126.9 157.8 L127.0 159.0 L127.1 160.1 L127.2 161.8 L127.4 163.5 L127.5 165.1 L127.7 166.8 L127.8 168.4 L128.0 170.0 L128.1 171.6 L128.3 173.2 L128.4 174.8 L128.6 176.3 L128.7 177.9 L128.9 179.4 L129.0 180.9 L129.2 182.4 L129.3 183.9 L129.5 185.4 L129.6 186.9 L129.8 188.3 L129.9 189.7 L130.1 191.2 L130.2 192.6 L130.4 194.0 L130.5 195.4 L130.7 196.7 L130.8 198.1 L131.0 199.5 L131.1 200.8 L131.3 202.1 L131.4 203.4 L131.6 204.7 L131.7 206.0 L131.9 207.3 L132.0 208.6 L132.2 209.9 L132.3 211.1 L132.5 212.4 L132.6 213.6 L132.8 214.8 L132.9 216.0 L133.1 217.2 L133.2 218.4 L133.4 219.6 L133.5 220.8 L133.7 222.0 L133.8 223.1 L134.0 224.3 L134.1 225.4 L134.3 226.5 L134.4 227.7 L134.6 228.8 L134.8 230.2 L135.0 231.7 L135.2 233.1 L135.4 234.5 L135.6 236.0 L135.8 237.4 L136.0 238.7 L136.2 240.1 L136.4 241.5 L136.6 242.8 L136.8 244.1 L137.0 245.4 L137.2 246.7 L137.4 248.0 L137.6 249.3 L137.8 250.6 L138.0 251.8 L138.2 253.1 L138.4 254.3 L138.6 255.5 L138.8 256.7 L139.0 257.9 L139.2 259.1 L139.4 260.3 L139.6 261.4 L139.8 262.6 L140.0 263.7 L140.2 264.8 L140.4 266.0 L140.6 267.1 L140.8 268.2 L141.0 269.3 L141.2 270.3 L141.5 271.7 L141.7 273.0 L142.0 274.3 L142.2 275.6 L142.5 276.9 L142.7 278.1 L143.0 279.4 L143.2 280.6 L143.5 281.8 L143.7 283.0 L144.0 284.2 L144.2 285.4 L144.5 286.6 L144.7 287.8 L145.0 288.9 L145.2 290.0 L145.5 291.2 L145.7 292.3 L146.0 293.4 L146.2 294.5 L146.5 295.6 L146.7 296.6 L147.0 297.7 L147.2 298.7 L147.5 300.0 L147.8 301.2 L148.1 302.4 L148.4 303.6 L148.7 304.8 L149.0 306.0 L149.3 307.1 L149.6 308.3 L149.9 309.4 L150.2 310.5 L150.5 311.6 L150.8 312.7 L151.1 313.8 L151.4 314.9 L151.7 315.9 L152.0 317.0 L152.3 318.0 L152.6 319.0 L152.9 320.0 L153.3 321.2 L153.6 322.3 L154.0 323.5 L154.3 324.6 L154.7 325.7 L155.0 326.8 L155.4 327.9 L155.7 329.0 L156.1 330.0 L156.4 331.1 L156.8 332.1 L157.1 333.1 L157.5 334.1 L157.8 335.1 L158.2 336.1 L158.6 337.2 L159.0 338.3 L159.4 339.4 L159.8 340.4 L160.2 341.5 L160.6 342.5 L161.0 343.6 L161.4 344.6 L161.8 345.6 L162.2 346.6 L162.6 347.5 L163.0 348.5 L163.4 349.4 L163.9 350.5 L164.3 351.5 L164.8 352.6 L165.2 353.6 L165.7 354.6 L166.1 355.6 L166.6 356.5 L167.0 357.5 L167.5 358.4 L167.9 359.4 L168.4 360.3 L168.9 361.3 L170.1 363.8 L171.2 365.8 L172.3 367.8 L173.3 369.7 L174.4 371.5 L175.5 373.3 L176.5 375.1 L177.6 376.8 L178.7 378.4 L179.7 380.0 L180.8 381.6 L181.9 383.1 L182.9 384.6 L184.0 386.1 L185.0 387.5 L186.1 388.9 L187.2 390.2 L188.2 391.5 L189.3 392.8 L190.4 394.0 L191.4 395.2 L192.5 396.4 L193.6 397.6 L194.6 398.7 L195.7 399.8 L196.8 400.9 L197.8 402.0 L198.9 403.0 L200.0 404.0 L201.0 405.0 L202.1 405.9 L203.2 406.9 L204.2 407.8 L205.3 408.7 L206.3 409.6 L207.4 410.5 L208.5 411.3 L209.5 412.2 L210.6 413.0 L211.7 413.8 L212.7 414.6 L213.8 415.3 L214.9 416.1 L215.9 416.8 L217.0 417.5 L218.1 418.2 L219.1 418.9 L220.2 419.6 L221.3 420.3 L222.3 421.0 L223.4 421.6 L224.5 422.2 L225.5 422.9 L226.6 423.5 L227.6 424.1 L228.7 424.7 L229.8 425.2 L230.8 425.8 L231.9 426.4 L233.0 426.9 L234.0 427.4 L235.1 428.0 L236.2 428.5 L238.3 429.5 L240.4 430.5 L242.6 431.5 L244.7 432.4 L246.8 433.3 L248.9 434.1 L251.1 435.0 L253.2 435.8 L255.3 436.6 L257.5 437.3 L259.6 438.1 L261.7 438.8 L263.9 439.5 L266.0 440.2 L268.1 440.8 L270.2 441.5 L272.4 442.1 L274.5 442.7 L276.6 443.3 L278.8 443.9 L280.9 444.4 L283.0 445.0 L285.2 445.5 L287.3 446.0 L289.4 446.5 L291.5 447.0 L293.7 447.5 L295.8 448.0 L297.9 448.4 L300.1 448.9 L302.2 449.3 L304.3 449.7 L306.4 450.1 L308.6 450.5 L310.7 450.9 L312.8 451.3 L315.0 451.7 L317.1 452.1 L319.2 452.4 L321.4 452.8 L323.5 453.1 L325.6 453.5 L327.7 453.8 L329.9 454.1 L332.0 454.4 L334.1 454.7 L336.3 455.0 L338.4 455.3 L340.5 455.6 L342.7 455.9 L344.8 456.2 L346.9 456.4 L349.0 456.7 L351.2 457.0 L353.3 457.2 L355.4 457.5 L357.6 457.7 L359.7 458.0 L361.8 458.2 L364.0 458.4 L366.1 458.7 L368.2 458.9 L370.3 459.1 L372.5 459.3 L374.6 459.5 L376.7 459.7 L378.9 459.9 L381.0 460.1 L383.1 460.3 L385.3 460.5 L387.4 460.7 L389.5 460.9 L391.6 461.1 L393.8 461.3 L395.9 461.4 L398.0 461.6 L400.2 461.8 L402.3 461.9 L404.4 462.1 L406.6 462.3 L408.7 462.4 L410.8 462.6 L412.9 462.7 L415.1 462.9 L417.2 463.0 L419.3 463.2 L421.5 463.3 L423.6 463.4 L425.7 463.6 L427.9 463.7 L430.0 463.9 L432.1 464.0 L434.2 464.1 L436.4 464.2 L438.5 464.4 L440.6 464.5 L442.8 464.6 L444.9 464.7 L447.0 464.8 L449.1 465.0 L451.3 465.1 L453.4 465.2 L455.5 465.3 L457.7 465.4 L459.8 465.5 L461.9 465.6 L464.1 465.7 L466.2 465.8 L468.3 465.9 L470.4 466.0 L472.6 466.1 L474.7 466.2 L476.8 466.3 L479.0 466.4 L481.1 466.5 L483.2 466.6 L485.4 466.7 L487.5 466.8 L489.6 466.8 L491.7 466.9 L493.9 467.0 L496.0 467.1 L498.1 467.2 L500.3 467.3 L502.4 467.3 L504.5 467.4 L506.7 467.5 L508.8 467.6 L510.9 467.6 L513.0 467.7 L515.2 467.8 L517.3 467.9 L519.4 467.9 L521.6 468.0 L523.7 468.1 L525.8 468.1 L528.0 468.2 L530.1 468.3 L532.2 468.3 L534.3 468.4 L536.5 468.5 L538.6 468.5 L540.7 468.6 L542.9 468.6 L545.0 468.7 L547.1 468.8 L549.3 468.8 L551.4 468.9 L553.5 468.9 L555.6 469.0 L557.8 469.1 L559.9 469.1 L562.0 469.2 L564.2 469.2 L566.3 469.3 L568.4 469.3 L570.5 469.4 L572.7 469.4 L574.8 469.5 L576.9 469.5 L579.1 469.6 L581.2 469.6 L583.3 469.7 L585.5 469.7 L587.6 469.8 L589.7 469.8 L591.8 469.8 L594.0 469.9 L596.1 469.9 L598.2 470.0 L600.4 470.0 L602.5 470.1 L604.6 470.1 L606.8 470.1 L608.9 470.2 L611.0 470.2 L613.1 470.3 L615.3 470.3 L617.4 470.3 L619.5 470.4 L621.7 470.4 L623.8 470.5 L625.9 470.5 L628.1 470.5 L630.2 470.6 L632.3 470.6 L634.4 470.6 L636.6 470.7 L638.7 470.7 L640.8 470.7 L643.0 470.8 L645.1 470.8 L647.2 470.8 L649.4 470.9 L651.5 470.9 L653.6 470.9 L655.7 471.0 L657.9 471.0 L660.0 471.0 L662.1 471.1 L664.3 471.1 L666.4 471.1 L668.5 471.2 L670.7 471.2 L672.8 471.2 L674.9 471.2 L677.0 471.3 L679.2 471.3 L681.3 471.3 L683.4 471.3 L685.6 471.4 L687.7 471.4 L689.8 471.4 L691.9 471.5 L694.1 471.5 L696.2 471.5 L698.3 471.5 L700.5 471.5 L702.6 471.6 L704.7 471.6 L706.9 471.6 L709.0 471.6 L711.1 471.7 L713.2 471.7 L715.4 471.7 L717.5 471.7 L719.6 471.8 L721.8 471.8 L723.9 471.8 L726.0 471.8 L728.2 471.8 L730.3 471.9 L732.4 471.9 L734.5 471.9 L736.7 471.9 L738.8 471.9 L740.9 472.0 L743.1 472.0 L745.2 472.0 L747.3 472.0 L749.5 472.0 L751.6 472.1 L753.7 472.1 L755.8 472.1 L758.0 472.1 L760.1 472.1 L762.2 472.1 L764.4 472.2 L766.5 472.2 L768.6 472.2 L770.8 472.2 L772.9 472.2 L775.0 472.2 L777.1 472.3 L779.3 472.3 L781.4 472.3 L783.5 472.3 L785.7 472.3 L787.8 472.3 L789.9 472.4 L792.1 472.4 L794.2 472.4 L796.3 472.4 L798.4 472.4 L800.6 472.4 L802.7 472.4 L804.8 472.5 L807.0 472.5 L807.0 472.5" stroke="#996633"/>
</g>
<rect x="96.00" y="481.3" width="2.51" height="4.1" fill="#dc0000"/>
<text x="49.30" y="444.15" font-size="21.7" stroke="#000" stroke-width="0.7">4</text>
<text x="49.30" y="370.48" font-size="21.7" stroke="#000" stroke-width="0.7">6</text>
<text x="49.30" y="296.81" font-size="21.7" stroke="#000" stroke-width="0.7">8</text>
<path transform="translate(37.23,223.14) scale(0.01060,-0.01015)" d="M763 0H583V1147Q518 1085 412.5 1023T223 930V1104Q373 1174.5 485 1275T644 1470H763Z" stroke="#000" stroke-width="66"/><text x="49.30" y="223.14" font-size="21.7" stroke="#000" stroke-width="0.7">0</text>
<path transform="translate(37.23,149.47) scale(0.01060,-0.01015)" d="M763 0H583V1147Q518 1085 412.5 1023T223 930V1104Q373 1174.5 485 1275T644 1470H763Z" stroke="#000" stroke-width="66"/><text x="49.30" y="149.47" font-size="21.7" stroke="#000" stroke-width="0.7">2</text>
<path transform="translate(37.23,75.80) scale(0.01060,-0.01015)" d="M763 0H583V1147Q518 1085 412.5 1023T223 930V1104Q373 1174.5 485 1275T644 1470H763Z" stroke="#000" stroke-width="66"/><text x="49.30" y="75.80" font-size="21.7" stroke="#000" stroke-width="0.7">4</text>
<text x="74.34" y="506.80" font-size="21.7" font-weight="bold">0.</text><path transform="translate(92.44,506.80) scale(0.01060,-0.01015)" d="M806 0H525V1059Q371 915 162 846V1101Q272 1137 401 1237.5T578 1472H806Z"/><text x="104.51" y="506.80" font-size="21.7" font-weight="bold">802</text>
<path transform="translate(220.38,505.95) scale(0.01060,-0.01015)" d="M763 0H583V1147Q518 1085 412.5 1023T223 930V1104Q373 1174.5 485 1275T644 1470H763Z" stroke="#000" stroke-width="66"/>
<text x="369.64" y="506.80" font-size="21.7" font-weight="bold">2.2</text><path transform="translate(399.81,506.80) scale(0.01060,-0.01015)" d="M806 0H525V1059Q371 915 162 846V1101Q272 1137 401 1237.5T578 1472H806Z"/><text x="411.87" y="506.80" font-size="21.7" font-weight="bold">98</text>
<text x="509.41" y="505.95" font-size="21.7" stroke="#000" stroke-width="0.7">3</text>
<text x="653.92" y="505.95" font-size="21.7" stroke="#000" stroke-width="0.7">4</text>
<text x="798.43" y="505.95" font-size="21.7" stroke="#000" stroke-width="0.7">5</text>
<text transform="translate(378.84,19.7) scale(1.07,1)" font-size="21.7" font-style="italic" stroke="#000" stroke-width="0.45">α</text>
<line x1="393.10" y1="12.70" x2="404.39" y2="12.70" stroke="#000" stroke-width="1.75"/><line x1="393.10" y1="16.40" x2="404.39" y2="16.40" stroke="#000" stroke-width="1.75"/>
<text x="404.73" y="19.70" font-size="21.7" stroke="#000" stroke-width="0.45">0.2,</text>
<text x="453.37" y="19.7" font-size="21.7" stroke="#000" stroke-width="0.45">a</text>
<line x1="465.83" y1="12.70" x2="476.96" y2="12.70" stroke="#000" stroke-width="1.75"/><line x1="465.83" y1="16.40" x2="476.96" y2="16.40" stroke="#000" stroke-width="1.75"/>
<text x="477.77" y="19.70" font-size="21.7" stroke="#000" stroke-width="0.45">0.4</text>
<text transform="translate(439.03,539.1) scale(1.2,1)" font-size="20.9" stroke="#000" stroke-width="0.45">r</text>
<g transform="translate(20.69,276.9) rotate(-90)"><text x="0" y="0" font-size="21.7" stroke="#000" stroke-width="0.45">E</text><text transform="translate(14.1,6.3) scale(0.85,1)" font-size="17.6" stroke="#000" stroke-width="0.45">cm</text></g>
<text transform="translate(87.77,382.3) scale(1.22,1)" font-size="21.7" font-style="italic" stroke="#000" stroke-width="0.45">r</text>
<line x1="96.55" y1="382.5" x2="104.23" y2="382.5" stroke="#000" stroke-width="1.5"/>
<text transform="translate(413.17,382.3) scale(1.22,1)" font-size="21.7" font-style="italic" stroke="#000" stroke-width="0.45">r</text>
<line x1="421.63" y1="382.4" x2="429.47" y2="382.4" stroke="#000" stroke-width="1.5"/>
<line x1="425.55" y1="378.9" x2="425.55" y2="386.0" stroke="#000" stroke-width="2.0"/>
<line x1="212.23" y1="68.70" x2="239.50" y2="68.70" stroke="#0000ff" stroke-width="2.8"/>
<text x="250.71" y="72.55" font-size="22.5" font-style="italic" stroke="#000" stroke-width="0.45">L</text>
<path transform="translate(262.23,76.25) scale(0.00693,-0.00664)" d="M763 0H583V1147Q518 1085 412.5 1023T223 930V1104Q373 1174.5 485 1275T644 1470H763Z" stroke="#000" stroke-width="65"/>
<line x1="277.90" y1="65.05" x2="288.56" y2="65.05" stroke="#000" stroke-width="1.75"/><line x1="277.90" y1="69.25" x2="288.56" y2="69.25" stroke="#000" stroke-width="1.75"/>
<text x="307.71" y="72.55" font-size="21.7" stroke="#000" stroke-width="0.45">0.48</text><path transform="translate(349.94,72.55) scale(0.01060,-0.01015)" d="M763 0H583V1147Q518 1085 412.5 1023T223 930V1104Q373 1174.5 485 1275T644 1470H763Z" stroke="#000" stroke-width="42"/><text x="362.00" y="72.55" font-size="21.7" stroke="#000" stroke-width="0.45">20,</text>
<text x="410.27" y="72.55" font-size="22.5" font-style="italic" stroke="#000" stroke-width="0.45">L</text>
<text x="422.10" y="76.25" font-size="15.0" stroke="#000" stroke-width="0.45">2</text>
<line x1="438.40" y1="65.05" x2="449.06" y2="65.05" stroke="#000" stroke-width="1.75"/><line x1="438.40" y1="69.25" x2="449.06" y2="69.25" stroke="#000" stroke-width="1.75"/>
<line x1="458.15" y1="67.05" x2="468.50" y2="67.05" stroke="#000" stroke-width="1.75"/>
<path transform="translate(468.97,72.55) scale(0.01060,-0.01015)" d="M763 0H583V1147Q518 1085 412.5 1023T223 930V1104Q373 1174.5 485 1275T644 1470H763Z" stroke="#000" stroke-width="42"/><text x="481.03" y="72.55" font-size="21.7" stroke="#000" stroke-width="0.45">,</text>
<text x="566.69" y="72.55" font-size="22.5" font-style="italic" stroke="#000" stroke-width="0.45">L</text>
<text x="578.37" y="76.25" font-size="15.0" stroke="#000" stroke-width="0.45">3</text>
<line x1="594.98" y1="65.05" x2="605.64" y2="65.05" stroke="#000" stroke-width="1.75"/><line x1="594.98" y1="69.25" x2="605.64" y2="69.25" stroke="#000" stroke-width="1.75"/>
<text x="624.73" y="72.55" font-size="21.7" stroke="#000" stroke-width="0.45">2</text>
<line x1="212.23" y1="107.40" x2="239.50" y2="107.40" stroke="#00ff00" stroke-width="2.8"/>
<text x="250.71" y="111.25" font-size="22.5" font-style="italic" stroke="#000" stroke-width="0.45">L</text>
<path transform="translate(262.23,114.95) scale(0.00693,-0.00664)" d="M763 0H583V1147Q518 1085 412.5 1023T223 930V1104Q373 1174.5 485 1275T644 1470H763Z" stroke="#000" stroke-width="65"/>
<line x1="277.90" y1="103.75" x2="288.56" y2="103.75" stroke="#000" stroke-width="1.75"/><line x1="277.90" y1="107.95" x2="288.56" y2="107.95" stroke="#000" stroke-width="1.75"/>
<line x1="297.49" y1="105.75" x2="307.84" y2="105.75" stroke="#000" stroke-width="1.75"/>
<text x="308.31" y="111.25" font-size="21.7" stroke="#000" stroke-width="0.45">0.5,</text>
<text x="411.68" y="111.25" font-size="22.5" font-style="italic" stroke="#000" stroke-width="0.45">L</text>
<text x="423.35" y="114.95" font-size="15.0" stroke="#000" stroke-width="0.45">2</text>
<line x1="439.97" y1="103.75" x2="450.63" y2="103.75" stroke="#000" stroke-width="1.75"/><line x1="439.97" y1="107.95" x2="450.63" y2="107.95" stroke="#000" stroke-width="1.75"/>
<text x="470.72" y="111.25" font-size="21.7" stroke="#000" stroke-width="0.45">0.48</text><path transform="translate(512.95,111.25) scale(0.01060,-0.01015)" d="M763 0H583V1147Q518 1085 412.5 1023T223 930V1104Q373 1174.5 485 1275T644 1470H763Z" stroke="#000" stroke-width="42"/><text x="525.01" y="111.25" font-size="21.7" stroke="#000" stroke-width="0.45">20,</text>
<text x="566.69" y="111.25" font-size="22.5" font-style="italic" stroke="#000" stroke-width="0.45">L</text>
<text x="578.37" y="114.95" font-size="15.0" stroke="#000" stroke-width="0.45">3</text>
<line x1="594.98" y1="103.75" x2="605.64" y2="103.75" stroke="#000" stroke-width="1.75"/><line x1="594.98" y1="107.95" x2="605.64" y2="107.95" stroke="#000" stroke-width="1.75"/>
<path transform="translate(623.04,111.25) scale(0.01060,-0.01015)" d="M763 0H583V1147Q518 1085 412.5 1023T223 930V1104Q373 1174.5 485 1275T644 1470H763Z" stroke="#000" stroke-width="42"/>
<line x1="212.23" y1="146.20" x2="239.50" y2="146.20" stroke="#ff0000" stroke-width="2.8"/>
<text x="250.71" y="150.05" font-size="22.5" font-style="italic" stroke="#000" stroke-width="0.45">L</text>
<path transform="translate(262.23,153.75) scale(0.00693,-0.00664)" d="M763 0H583V1147Q518 1085 412.5 1023T223 930V1104Q373 1174.5 485 1275T644 1470H763Z" stroke="#000" stroke-width="65"/>
<line x1="277.90" y1="142.55" x2="288.56" y2="142.55" stroke="#000" stroke-width="1.75"/><line x1="277.90" y1="146.75" x2="288.56" y2="146.75" stroke="#000" stroke-width="1.75"/>
<line x1="297.49" y1="144.55" x2="307.84" y2="144.55" stroke="#000" stroke-width="1.75"/>
<path transform="translate(308.31,150.05) scale(0.01060,-0.01015)" d="M763 0H583V1147Q518 1085 412.5 1023T223 930V1104Q373 1174.5 485 1275T644 1470H763Z" stroke="#000" stroke-width="42"/><text x="320.37" y="150.05" font-size="21.7" stroke="#000" stroke-width="0.45">,</text>
<text x="411.68" y="150.05" font-size="22.5" font-style="italic" stroke="#000" stroke-width="0.45">L</text>
<text x="423.35" y="153.75" font-size="15.0" stroke="#000" stroke-width="0.45">2</text>
<line x1="439.97" y1="142.55" x2="450.63" y2="142.55" stroke="#000" stroke-width="1.75"/><line x1="439.97" y1="146.75" x2="450.63" y2="146.75" stroke="#000" stroke-width="1.75"/>
<path transform="translate(469.28,150.05) scale(0.01060,-0.01015)" d="M763 0H583V1147Q518 1085 412.5 1023T223 930V1104Q373 1174.5 485 1275T644 1470H763Z" stroke="#000" stroke-width="42"/><text x="481.34" y="150.05" font-size="21.7" stroke="#000" stroke-width="0.45">,</text>
<text x="567.95" y="150.05" font-size="22.5" font-style="italic" stroke="#000" stroke-width="0.45">L</text>
<text x="579.94" y="153.75" font-size="15.0" stroke="#000" stroke-width="0.45">3</text>
<line x1="596.24" y1="142.55" x2="606.90" y2="142.55" stroke="#000" stroke-width="1.75"/><line x1="596.24" y1="146.75" x2="606.90" y2="146.75" stroke="#000" stroke-width="1.75"/>
<text x="626.05" y="150.05" font-size="21.7" stroke="#000" stroke-width="0.45">0.48</text><path transform="translate(668.28,150.05) scale(0.01060,-0.01015)" d="M763 0H583V1147Q518 1085 412.5 1023T223 930V1104Q373 1174.5 485 1275T644 1470H763Z" stroke="#000" stroke-width="42"/><text x="680.34" y="150.05" font-size="21.7" stroke="#000" stroke-width="0.45">20</text>
<line x1="212.23" y1="184.90" x2="239.50" y2="184.90" stroke="#ff8080" stroke-width="2.8"/>
<text x="250.71" y="188.75" font-size="22.5" font-style="italic" stroke="#000" stroke-width="0.45">L</text>
<path transform="translate(262.23,192.45) scale(0.00693,-0.00664)" d="M763 0H583V1147Q518 1085 412.5 1023T223 930V1104Q373 1174.5 485 1275T644 1470H763Z" stroke="#000" stroke-width="65"/>
<line x1="277.90" y1="181.25" x2="288.56" y2="181.25" stroke="#000" stroke-width="1.75"/><line x1="277.90" y1="185.45" x2="288.56" y2="185.45" stroke="#000" stroke-width="1.75"/>
<line x1="297.49" y1="183.25" x2="307.84" y2="183.25" stroke="#000" stroke-width="1.75"/>
<path transform="translate(308.31,188.75) scale(0.01060,-0.01015)" d="M763 0H583V1147Q518 1085 412.5 1023T223 930V1104Q373 1174.5 485 1275T644 1470H763Z" stroke="#000" stroke-width="42"/><text x="320.37" y="188.75" font-size="21.7" stroke="#000" stroke-width="0.45">,</text>
<text x="411.68" y="188.75" font-size="22.5" font-style="italic" stroke="#000" stroke-width="0.45">L</text>
<text x="423.35" y="192.45" font-size="15.0" stroke="#000" stroke-width="0.45">2</text>
<line x1="439.97" y1="181.25" x2="450.63" y2="181.25" stroke="#000" stroke-width="1.75"/><line x1="439.97" y1="185.45" x2="450.63" y2="185.45" stroke="#000" stroke-width="1.75"/>
<text x="470.72" y="188.75" font-size="21.7" stroke="#000" stroke-width="0.45">0.48</text><path transform="translate(512.95,188.75) scale(0.01060,-0.01015)" d="M763 0H583V1147Q518 1085 412.5 1023T223 930V1104Q373 1174.5 485 1275T644 1470H763Z" stroke="#000" stroke-width="42"/><text x="525.01" y="188.75" font-size="21.7" stroke="#000" stroke-width="0.45">20,</text>
<text x="566.69" y="188.75" font-size="22.5" font-style="italic" stroke="#000" stroke-width="0.45">L</text>
<text x="578.37" y="192.45" font-size="15.0" stroke="#000" stroke-width="0.45">3</text>
<line x1="594.98" y1="181.25" x2="605.64" y2="181.25" stroke="#000" stroke-width="1.75"/><line x1="594.98" y1="185.45" x2="605.64" y2="185.45" stroke="#000" stroke-width="1.75"/>
<line x1="612.54" y1="183.25" x2="622.88" y2="183.25" stroke="#000" stroke-width="1.75"/>
<text x="623.35" y="188.75" font-size="21.7" stroke="#000" stroke-width="0.45">0.5</text>
<line x1="212.23" y1="223.60" x2="239.50" y2="223.60" stroke="#996633" stroke-width="2.8"/>
<text x="250.71" y="227.45" font-size="22.5" font-style="italic" stroke="#000" stroke-width="0.45">L</text>
<path transform="translate(262.23,231.15) scale(0.00693,-0.00664)" d="M763 0H583V1147Q518 1085 412.5 1023T223 930V1104Q373 1174.5 485 1275T644 1470H763Z" stroke="#000" stroke-width="65"/>
<line x1="277.90" y1="219.95" x2="288.56" y2="219.95" stroke="#000" stroke-width="1.75"/><line x1="277.90" y1="224.15" x2="288.56" y2="224.15" stroke="#000" stroke-width="1.75"/>
<text x="307.71" y="227.45" font-size="21.7" stroke="#000" stroke-width="0.45">0.48</text><path transform="translate(349.94,227.45) scale(0.01060,-0.01015)" d="M763 0H583V1147Q518 1085 412.5 1023T223 930V1104Q373 1174.5 485 1275T644 1470H763Z" stroke="#000" stroke-width="42"/><text x="362.00" y="227.45" font-size="21.7" stroke="#000" stroke-width="0.45">20,</text>
<text x="410.27" y="227.45" font-size="22.5" font-style="italic" stroke="#000" stroke-width="0.45">L</text>
<text x="422.10" y="231.15" font-size="15.0" stroke="#000" stroke-width="0.45">2</text>
<line x1="438.87" y1="219.95" x2="449.53" y2="219.95" stroke="#000" stroke-width="1.75"/><line x1="438.87" y1="224.15" x2="449.53" y2="224.15" stroke="#000" stroke-width="1.75"/>
<line x1="463.79" y1="221.95" x2="474.14" y2="221.95" stroke="#000" stroke-width="1.75"/>
<text x="474.61" y="227.45" font-size="21.7" stroke="#000" stroke-width="0.45">0.5,</text>
<text x="566.69" y="227.45" font-size="22.5" font-style="italic" stroke="#000" stroke-width="0.45">L</text>
<text x="578.37" y="231.15" font-size="15.0" stroke="#000" stroke-width="0.45">3</text>
<line x1="594.98" y1="219.95" x2="605.64" y2="219.95" stroke="#000" stroke-width="1.75"/><line x1="594.98" y1="224.15" x2="605.64" y2="224.15" stroke="#000" stroke-width="1.75"/>
<text x="624.73" y="227.45" font-size="21.7" stroke="#000" stroke-width="0.45">2</text>
</g></svg></body></html>
